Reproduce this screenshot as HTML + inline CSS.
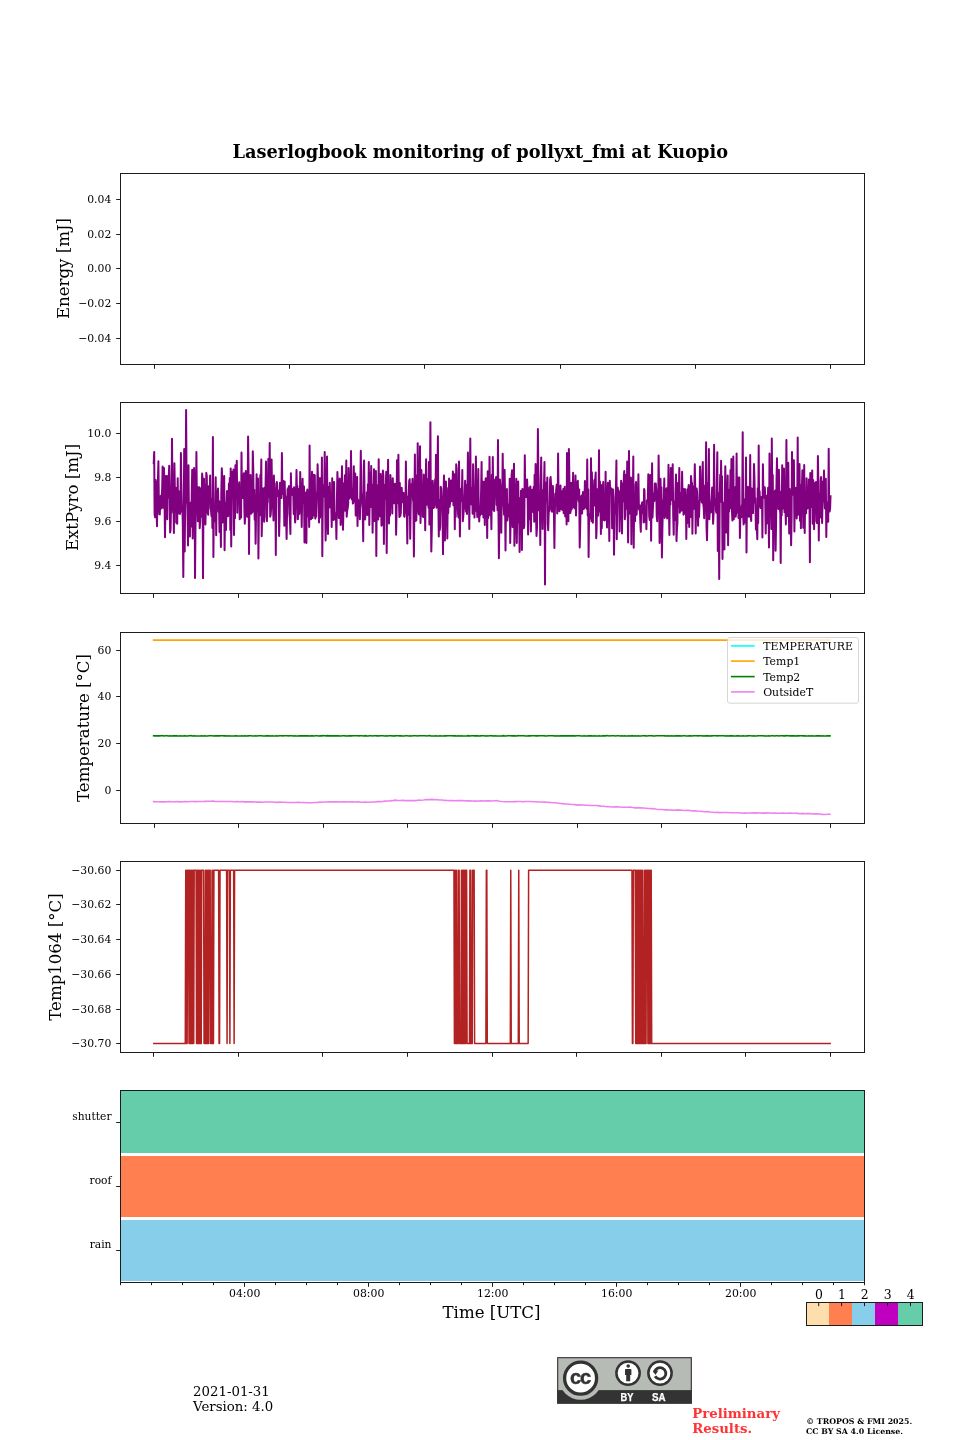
<!DOCTYPE html>
<html lang="en"><head><meta charset="utf-8"><title>Laserlogbook monitoring of pollyxt_fmi at Kuopio</title>
<style>html,body{margin:0;padding:0;background:#fff}svg{display:block}</style></head>
<body>
<svg width="960" height="1440" viewBox="0 0 960 1440" font-family="'DejaVu Serif','Liberation Serif',serif">
<rect width="960" height="1440" fill="#fff"/>
<text x="480.3" y="158" font-size="17.75" text-anchor="middle" font-weight="bold">Laserlogbook monitoring of pollyxt_fmi at Kuopio</text>
<path d="M154.5 364.5v4.3M289.5 364.5v4.3M424.5 364.5v4.3M560.5 364.5v4.3M695.5 364.5v4.3M830.5 364.5v4.3" stroke="#1c1c1c" stroke-width="1" fill="none"/>
<path d="M120.5 199.5h-4.3M120.5 234.5h-4.3M120.5 268.5h-4.3M120.5 303.5h-4.3M120.5 338.5h-4.3" stroke="#1c1c1c" stroke-width="1" fill="none"/>
<text x="111.3" y="203.4" font-size="10.8" text-anchor="end">0.04</text>
<text x="111.3" y="238.4" font-size="10.8" text-anchor="end">0.02</text>
<text x="111.3" y="272.4" font-size="10.8" text-anchor="end">0.00</text>
<text x="111.3" y="307.4" font-size="10.8" text-anchor="end">−0.02</text>
<text x="111.3" y="342.4" font-size="10.8" text-anchor="end">−0.04</text>
<text x="69.2" y="268.5" font-size="16.6" text-anchor="middle" transform="rotate(-90 69.2 268.5)">Energy [mJ]</text>
<rect x="120.5" y="173.5" width="744.0" height="191.0" stroke="#1c1c1c" stroke-width="1" fill="none"/>
<path d="M153.7 463.4L154.2 451.9L154.6 514.3L155.1 517.3L155.6 480.1L156.0 499.0L156.5 507.2L157.0 526.3L157.5 481.8L157.9 480.6L158.4 461.2L158.9 507.1L159.3 514.1L159.8 514.4L160.3 498.5L160.7 495.9L161.2 508.5L161.7 495.7L162.2 488.2L162.6 466.4L163.1 507.7L163.6 502.2L164.0 467.9L164.5 499.1L165.0 537.2L165.4 510.4L165.9 475.9L166.4 503.1L166.9 476.1L167.3 519.3L167.8 478.7L168.3 497.4L168.7 477.9L169.2 465.7L169.7 488.3L170.1 532.5L170.6 529.5L171.1 499.3L171.5 512.6L172.0 438.8L172.5 495.7L173.0 509.9L173.4 498.6L173.9 533.0L174.4 463.2L174.8 484.9L175.3 508.5L175.8 487.8L176.2 522.8L176.7 492.4L177.2 523.8L177.7 478.2L178.1 513.5L178.6 491.0L179.1 507.6L179.5 507.7L180.0 513.9L180.5 509.4L180.9 453.1L181.4 488.3L181.9 511.5L182.4 507.0L182.8 524.6L183.3 577.0L183.8 508.3L184.2 449.0L184.7 551.4L185.2 503.1L185.6 502.7L186.1 410.1L186.6 484.8L187.0 494.1L187.5 508.9L188.0 545.6L188.5 465.3L188.9 515.8L189.4 511.7L189.9 536.6L190.3 502.8L190.8 511.6L191.3 526.6L191.7 495.1L192.2 469.8L192.7 538.5L193.2 503.7L193.6 514.6L194.1 467.9L194.6 483.0L195.0 578.1L195.5 526.6L196.0 502.7L196.4 452.1L196.9 501.9L197.4 486.7L197.9 521.2L198.3 505.6L198.8 516.7L199.3 487.2L199.7 528.3L200.2 520.3L200.7 488.6L201.1 511.9L201.6 516.7L202.1 473.4L202.5 478.0L203.0 578.3L203.5 503.6L204.0 478.8L204.4 523.2L204.9 484.9L205.4 524.4L205.8 509.7L206.3 472.8L206.8 476.2L207.2 512.1L207.7 512.8L208.2 514.8L208.7 486.2L209.1 493.8L209.6 503.3L210.1 475.4L210.5 508.0L211.0 510.3L211.5 516.2L211.9 498.8L212.4 527.9L212.9 437.1L213.4 557.1L213.8 510.8L214.3 521.4L214.8 509.8L215.2 504.5L215.7 477.3L216.2 535.3L216.6 490.8L217.1 492.0L217.6 508.8L218.0 488.5L218.5 511.8L219.0 501.2L219.5 532.1L219.9 501.8L220.4 506.4L220.9 546.9L221.3 492.8L221.8 468.3L222.3 479.5L222.7 522.5L223.2 521.8L223.7 497.3L224.2 476.0L224.6 550.3L225.1 502.5L225.6 503.1L226.0 530.0L226.5 503.7L227.0 491.0L227.4 491.6L227.9 516.3L228.4 515.4L228.9 483.4L229.3 502.7L229.8 477.9L230.3 530.0L230.7 468.6L231.2 546.6L231.7 497.4L232.1 472.1L232.6 498.1L233.1 476.7L233.5 469.6L234.0 534.9L234.5 486.4L235.0 518.3L235.4 465.3L235.9 482.3L236.4 477.0L236.8 460.8L237.3 512.8L237.8 485.2L238.2 489.6L238.7 489.6L239.2 482.2L239.7 519.3L240.1 516.8L240.6 510.3L241.1 517.5L241.5 452.5L242.0 498.0L242.5 485.3L242.9 498.1L243.4 480.3L243.9 473.3L244.4 510.5L244.8 523.8L245.3 512.6L245.8 471.1L246.2 503.8L246.7 489.2L247.2 516.7L247.6 494.4L248.1 436.5L248.6 474.6L249.0 553.9L249.5 499.9L250.0 502.3L250.5 475.0L250.9 513.8L251.4 507.7L251.9 508.5L252.3 512.6L252.8 451.2L253.3 470.5L253.7 511.3L254.2 489.7L254.7 519.7L255.2 505.1L255.6 543.7L256.1 511.5L256.6 474.2L257.0 510.8L257.5 489.9L258.0 478.4L258.4 558.4L258.9 511.5L259.4 513.3L259.9 515.2L260.3 475.1L260.8 491.1L261.3 459.6L261.7 536.2L262.2 509.0L262.7 488.5L263.1 503.7L263.6 503.5L264.1 521.8L264.5 487.7L265.0 487.6L265.5 488.6L266.0 461.5L266.4 516.4L266.9 521.2L267.4 503.4L267.8 501.7L268.3 458.9L268.8 496.9L269.2 495.0L269.7 442.9L270.2 516.7L270.7 514.7L271.1 508.0L271.6 459.6L272.1 496.8L272.5 500.9L273.0 505.3L273.5 520.5L273.9 475.6L274.4 503.6L274.9 488.8L275.4 488.2L275.8 555.0L276.3 484.0L276.8 482.0L277.2 485.1L277.7 496.0L278.2 490.8L278.6 490.7L279.1 536.0L279.6 516.9L280.0 482.7L280.5 497.9L281.0 490.8L281.5 498.1L281.9 453.1L282.4 494.1L282.9 482.8L283.3 481.0L283.8 483.4L284.3 525.7L284.7 481.4L285.2 505.3L285.7 496.4L286.2 521.9L286.6 538.9L287.1 511.3L287.6 489.1L288.0 490.1L288.5 487.8L289.0 486.1L289.4 513.6L289.9 519.4L290.4 534.0L290.9 473.3L291.3 494.3L291.8 494.1L292.3 491.7L292.7 495.1L293.2 488.5L293.7 514.1L294.1 487.3L294.6 507.4L295.1 522.5L295.5 518.8L296.0 495.0L296.5 470.1L297.0 493.9L297.4 485.9L297.9 519.3L298.4 508.6L298.8 489.1L299.3 514.0L299.8 508.0L300.2 472.0L300.7 492.0L301.2 496.4L301.7 527.0L302.1 502.0L302.6 478.8L303.1 502.8L303.5 491.2L304.0 486.6L304.5 542.4L304.9 505.4L305.4 506.6L305.9 492.5L306.4 543.0L306.8 492.9L307.3 489.6L307.8 516.5L308.2 494.2L308.7 506.0L309.2 527.0L309.6 445.4L310.1 518.1L310.6 493.9L311.0 519.2L311.5 488.3L312.0 471.8L312.5 518.0L312.9 484.0L313.4 494.4L313.9 474.7L314.3 515.4L314.8 475.3L315.3 518.6L315.7 516.1L316.2 516.6L316.7 496.4L317.2 491.0L317.6 464.3L318.1 482.7L318.6 496.0L319.0 522.5L319.5 478.2L320.0 517.7L320.4 496.5L320.9 478.1L321.4 515.8L321.9 457.6L322.3 556.2L322.8 498.0L323.3 494.8L323.7 485.0L324.2 496.3L324.7 451.9L325.1 490.9L325.6 540.4L326.1 516.9L326.5 511.2L327.0 456.4L327.5 512.9L328.0 534.0L328.4 487.0L328.9 501.9L329.4 507.5L329.8 482.7L330.3 507.0L330.8 496.4L331.2 500.6L331.7 527.0L332.2 478.2L332.7 510.1L333.1 494.9L333.6 519.9L334.1 482.0L334.5 516.5L335.0 519.2L335.5 514.9L335.9 512.9L336.4 538.9L336.9 500.0L337.4 472.0L337.8 484.2L338.3 497.0L338.8 518.0L339.2 510.9L339.7 478.4L340.2 498.4L340.6 525.0L341.1 520.3L341.6 488.1L342.0 466.2L342.5 512.3L343.0 529.8L343.5 506.8L343.9 483.3L344.4 498.4L344.9 475.3L345.3 510.7L345.8 492.5L346.3 460.5L346.7 516.7L347.2 510.7L347.7 508.1L348.2 504.4L348.6 467.9L349.1 498.7L349.6 496.1L350.0 496.8L350.5 497.5L351.0 451.0L351.4 486.3L351.9 499.4L352.4 492.5L352.9 503.6L353.3 502.9L353.8 466.2L354.3 501.1L354.7 486.4L355.2 473.5L355.7 515.4L356.1 498.5L356.6 478.6L357.1 476.9L357.5 525.9L358.0 499.6L358.5 502.1L359.0 505.3L359.4 503.3L359.9 519.3L360.4 482.9L360.8 450.8L361.3 492.3L361.8 496.5L362.2 504.1L362.7 509.3L363.2 541.3L363.7 470.0L364.1 460.5L364.6 497.0L365.1 519.4L365.5 514.0L366.0 514.1L366.5 506.0L366.9 492.2L367.4 514.9L367.9 484.2L368.4 498.5L368.8 462.1L369.3 525.0L369.8 491.2L370.2 472.4L370.7 506.9L371.2 466.0L371.6 499.0L372.1 484.7L372.6 532.7L373.0 508.5L373.5 497.4L374.0 469.2L374.5 521.1L374.9 483.2L375.4 491.6L375.9 471.1L376.3 555.9L376.8 488.9L377.3 485.6L377.7 489.6L378.2 519.5L378.7 459.2L379.2 516.1L379.6 516.2L380.1 499.1L380.6 474.0L381.0 506.0L381.5 525.7L382.0 524.6L382.4 481.3L382.9 470.5L383.4 475.9L383.9 544.0L384.3 484.8L384.8 499.0L385.3 494.3L385.7 490.8L386.2 471.8L386.7 552.9L387.1 500.9L387.6 486.5L388.1 459.8L388.5 504.0L389.0 523.5L389.5 493.1L390.0 515.4L390.4 475.0L390.9 483.6L391.4 485.4L391.8 496.9L392.3 513.5L392.8 478.2L393.2 492.3L393.7 483.5L394.2 503.2L394.7 499.6L395.1 484.6L395.6 483.7L396.1 534.7L396.5 515.2L397.0 460.2L397.5 503.1L397.9 495.2L398.4 454.8L398.9 499.8L399.4 517.0L399.8 483.0L400.3 516.1L400.8 513.1L401.2 496.0L401.7 487.8L402.2 499.3L402.6 502.2L403.1 494.4L403.6 492.9L404.1 516.1L404.5 516.7L405.0 509.7L405.5 509.1L405.9 461.5L406.4 508.5L406.9 515.3L407.3 543.4L407.8 496.6L408.3 514.8L408.7 494.7L409.2 480.8L409.7 479.2L410.2 538.8L410.6 509.2L411.1 489.2L411.6 484.1L412.0 495.0L412.5 478.8L413.0 499.3L413.4 502.4L413.9 556.5L414.4 504.4L414.9 454.4L415.3 520.9L415.8 475.3L416.3 520.4L416.7 500.0L417.2 510.3L417.7 443.3L418.1 497.5L418.6 513.6L419.1 514.5L419.6 484.6L420.0 446.3L420.5 522.9L421.0 498.1L421.4 470.0L421.9 494.8L422.4 497.1L422.8 516.7L423.3 517.0L423.8 474.6L424.2 494.1L424.7 495.5L425.2 530.2L425.7 488.4L426.1 459.2L426.6 504.7L427.1 492.4L427.5 498.6L428.0 479.1L428.5 507.8L428.9 462.1L429.4 524.4L429.9 486.4L430.4 422.3L430.8 503.2L431.3 551.4L431.8 530.0L432.2 499.4L432.7 480.7L433.2 489.0L433.6 507.9L434.1 507.1L434.6 504.2L435.1 479.5L435.5 492.4L436.0 454.8L436.5 507.7L436.9 482.2L437.4 482.2L437.9 436.2L438.3 500.2L438.8 536.6L439.3 500.3L439.7 530.0L440.2 526.6L440.7 486.8L441.2 488.5L441.6 501.3L442.1 497.9L442.6 515.6L443.0 554.3L443.5 495.1L444.0 475.6L444.4 498.5L444.9 540.4L445.4 511.6L445.9 481.4L446.3 493.4L446.8 488.0L447.3 538.5L447.7 503.4L448.2 513.3L448.7 499.1L449.1 478.4L449.6 506.8L450.1 502.4L450.6 499.4L451.0 480.5L451.5 501.2L452.0 489.7L452.4 489.7L452.9 471.4L453.4 505.3L453.8 486.6L454.3 474.3L454.8 529.3L455.2 491.4L455.7 516.8L456.2 464.3L456.7 470.0L457.1 506.4L457.6 506.3L458.1 514.3L458.5 517.5L459.0 461.5L459.5 503.0L459.9 536.6L460.4 493.2L460.9 495.0L461.4 488.4L461.8 501.0L462.3 470.1L462.8 521.2L463.2 516.8L463.7 511.1L464.2 506.3L464.6 496.4L465.1 480.7L465.6 498.3L466.1 511.6L466.5 484.9L467.0 514.0L467.5 495.0L467.9 452.5L468.4 495.1L468.9 481.2L469.3 528.9L469.8 482.6L470.3 438.4L470.7 491.7L471.2 504.2L471.7 487.9L472.2 493.8L472.6 513.8L473.1 464.3L473.6 487.3L474.0 500.2L474.5 517.6L475.0 490.5L475.4 510.7L475.9 456.4L476.4 509.1L476.9 506.5L477.3 516.9L477.8 505.5L478.3 468.9L478.7 510.0L479.2 521.4L479.7 511.3L480.1 515.3L480.6 508.9L481.1 491.7L481.6 462.1L482.0 514.1L482.5 481.3L483.0 494.7L483.4 517.5L483.9 482.0L484.4 501.8L484.8 525.0L485.3 482.2L485.8 478.2L486.2 505.3L486.7 503.1L487.2 538.1L487.7 471.3L488.1 518.3L488.6 510.8L489.1 515.4L489.5 456.7L490.0 493.3L490.5 490.9L490.9 504.7L491.4 529.3L491.9 474.7L492.4 496.6L492.8 457.0L493.3 508.4L493.8 510.2L494.2 510.9L494.7 481.4L495.2 479.2L495.6 495.7L496.1 476.9L496.6 505.1L497.1 492.1L497.5 510.2L498.0 440.0L498.5 516.4L498.9 558.2L499.4 515.8L499.9 479.4L500.3 484.6L500.8 494.4L501.3 532.7L501.7 496.5L502.2 505.1L502.7 453.8L503.2 492.6L503.6 504.0L504.1 514.8L504.6 469.8L505.0 493.6L505.5 550.5L506.0 504.5L506.4 515.1L506.9 489.1L507.4 520.4L507.9 514.1L508.3 504.7L508.8 516.3L509.3 514.3L509.7 478.8L510.2 543.0L510.7 515.4L511.1 506.3L511.6 475.1L512.1 470.2L512.6 527.0L513.0 501.6L513.5 504.2L514.0 463.8L514.4 545.8L514.9 523.7L515.4 491.2L515.8 494.0L516.3 478.8L516.8 543.0L517.2 511.8L517.7 522.3L518.2 481.4L518.7 517.5L519.1 507.0L519.6 552.0L520.1 497.9L520.5 530.0L521.0 490.8L521.5 493.0L521.9 550.1L522.4 489.0L522.9 489.5L523.4 501.2L523.8 528.2L524.3 525.7L524.8 455.3L525.2 486.0L525.7 482.2L526.2 496.9L526.6 493.0L527.1 479.5L527.6 493.9L528.1 534.4L528.5 516.9L529.0 501.2L529.5 487.4L529.9 519.3L530.4 486.5L530.9 531.5L531.3 504.8L531.8 507.3L532.3 489.7L532.7 510.5L533.2 512.3L533.7 486.8L534.2 521.8L534.6 474.7L535.1 498.1L535.6 464.1L536.0 515.0L536.5 536.0L537.0 527.8L537.4 500.2L537.9 429.0L538.4 477.1L538.9 510.3L539.3 505.9L539.8 498.6L540.3 544.9L540.7 483.3L541.2 457.4L541.7 519.2L542.1 494.5L542.6 528.9L543.1 490.0L543.6 503.8L544.0 484.9L544.5 462.1L545.0 584.5L545.4 504.7L545.9 490.9L546.4 482.4L546.8 495.1L547.3 477.5L547.8 523.7L548.2 530.2L548.7 512.0L549.2 511.4L549.7 505.9L550.1 480.0L550.6 476.9L551.1 485.5L551.5 510.3L552.0 511.8L552.5 509.3L552.9 485.9L553.4 509.3L553.9 510.5L554.4 547.9L554.8 514.6L555.3 493.6L555.8 497.3L556.2 489.3L556.7 484.7L557.2 513.5L557.6 509.9L558.1 453.5L558.6 503.1L559.1 490.3L559.5 511.3L560.0 491.7L560.5 485.6L560.9 509.1L561.4 495.9L561.9 509.6L562.3 491.1L562.8 510.0L563.3 489.1L563.7 513.2L564.2 498.4L564.7 486.7L565.2 516.6L565.6 493.5L566.1 497.8L566.6 524.4L567.0 453.1L567.5 494.2L568.0 504.2L568.4 521.2L568.9 449.0L569.4 478.8L569.9 506.5L570.3 513.1L570.8 510.4L571.3 482.8L571.7 509.0L572.2 505.8L572.7 504.3L573.1 472.7L573.6 507.1L574.1 503.2L574.6 508.3L575.0 492.4L575.5 475.4L576.0 515.4L576.4 502.9L576.9 481.7L577.4 489.9L577.8 480.7L578.3 497.7L578.8 501.4L579.2 489.6L579.7 547.5L580.2 526.3L580.7 497.0L581.1 497.3L581.6 495.5L582.1 513.5L582.5 501.6L583.0 492.1L583.5 509.1L583.9 508.7L584.4 508.3L584.9 481.0L585.4 498.4L585.8 506.9L586.3 481.6L586.8 509.0L587.2 459.6L587.7 515.5L588.2 489.2L588.6 557.1L589.1 514.1L589.6 514.9L590.1 518.4L590.5 518.0L591.0 458.3L591.5 521.2L591.9 472.2L592.4 511.8L592.9 522.7L593.3 493.1L593.8 492.9L594.3 480.1L594.7 505.6L595.2 479.4L595.7 472.4L596.2 538.3L596.6 530.0L597.1 489.2L597.6 512.8L598.0 515.8L598.5 510.9L599.0 450.3L599.4 511.3L599.9 481.5L600.4 494.8L600.9 534.0L601.3 485.2L601.8 528.2L602.3 485.1L602.7 508.4L603.2 482.1L603.7 520.1L604.1 519.1L604.6 520.5L605.1 519.1L605.6 471.8L606.0 519.6L606.5 504.7L607.0 527.6L607.4 494.3L607.9 482.7L608.4 509.3L608.8 501.9L609.3 541.1L609.8 480.7L610.2 493.0L610.7 489.2L611.2 488.3L611.7 488.9L612.1 528.3L612.6 513.6L613.1 489.5L613.5 497.4L614.0 554.8L614.5 516.0L614.9 509.2L615.4 511.6L615.9 491.6L616.4 460.5L616.8 539.2L617.3 498.5L617.8 487.7L618.2 494.4L618.7 490.4L619.2 496.8L619.6 531.5L620.1 492.6L620.6 519.6L621.1 480.7L621.5 484.8L622.0 533.4L622.5 483.7L622.9 483.9L623.4 501.3L623.9 475.1L624.3 471.1L624.8 519.3L625.3 515.5L625.7 474.9L626.2 486.5L626.7 508.7L627.2 461.5L627.6 486.9L628.1 542.4L628.6 497.0L629.0 451.0L629.5 513.4L630.0 497.8L630.4 504.5L630.9 477.5L631.4 544.3L631.9 497.7L632.3 479.9L632.8 500.2L633.3 456.4L633.7 547.8L634.2 496.8L634.7 511.6L635.1 521.2L635.6 484.9L636.1 482.0L636.6 514.8L637.0 507.4L637.5 489.1L638.0 498.2L638.4 474.3L638.9 508.1L639.4 510.3L639.8 505.6L640.3 521.6L640.8 531.7L641.2 505.1L641.7 504.9L642.2 502.3L642.7 512.9L643.1 504.4L643.6 522.5L644.1 489.1L644.5 490.4L645.0 521.7L645.5 515.4L645.9 513.3L646.4 529.3L646.9 500.5L647.4 499.8L647.8 500.5L648.3 474.3L648.8 497.6L649.2 516.1L649.7 519.9L650.2 475.0L650.6 488.7L651.1 540.8L651.6 496.1L652.1 463.2L652.5 517.5L653.0 506.2L653.5 493.7L653.9 501.3L654.4 501.0L654.9 483.4L655.3 489.9L655.8 483.6L656.3 490.5L656.7 515.6L657.2 521.2L657.7 494.0L658.2 507.4L658.6 455.5L659.1 490.9L659.6 543.0L660.0 530.0L660.5 478.8L661.0 506.3L661.4 487.2L661.9 557.4L662.4 528.8L662.9 506.8L663.3 502.2L663.8 498.0L664.3 478.6L664.7 517.9L665.2 515.4L665.7 498.1L666.1 492.1L666.6 488.2L667.1 518.6L667.6 494.3L668.0 502.1L668.5 464.7L669.0 512.7L669.4 535.1L669.9 490.4L670.4 504.6L670.8 467.9L671.3 486.4L671.8 500.0L672.2 484.6L672.7 464.3L673.2 515.0L673.7 534.7L674.1 501.7L674.6 512.6L675.1 519.9L675.5 490.1L676.0 474.6L676.5 541.1L676.9 530.0L677.4 522.9L677.9 482.9L678.4 506.7L678.8 495.5L679.3 467.9L679.8 512.8L680.2 492.8L680.7 499.8L681.2 510.7L681.6 510.5L682.1 471.8L682.6 500.4L683.1 488.7L683.5 514.8L684.0 514.0L684.5 512.5L684.9 489.1L685.4 503.9L685.9 499.7L686.3 538.9L686.8 506.0L687.3 489.4L687.7 522.9L688.2 490.6L688.7 484.9L689.2 527.0L689.6 492.6L690.1 486.0L690.6 517.0L691.0 476.0L691.5 482.3L692.0 483.1L692.4 533.8L692.9 492.7L693.4 486.5L693.9 508.8L694.3 497.2L694.8 464.3L695.3 491.1L695.7 533.4L696.2 493.1L696.7 488.5L697.1 492.3L697.6 506.0L698.1 525.7L698.6 501.5L699.0 517.0L699.5 503.6L700.0 466.4L700.4 496.0L700.9 500.0L701.4 480.5L701.8 502.6L702.3 472.7L702.8 462.1L703.2 503.7L703.7 507.8L704.2 518.2L704.7 502.0L705.1 485.2L705.6 506.5L706.1 442.2L706.5 526.8L707.0 540.2L707.5 514.4L707.9 483.0L708.4 492.1L708.9 448.9L709.4 519.3L709.8 507.9L710.3 510.3L710.8 512.6L711.2 503.4L711.7 496.8L712.2 487.4L712.6 498.2L713.1 523.8L713.6 513.3L714.1 444.8L714.5 503.1L715.0 498.7L715.5 500.9L715.9 510.5L716.4 512.8L716.9 477.0L717.3 452.2L717.8 551.1L718.3 493.1L718.7 507.9L719.2 579.0L719.7 499.2L720.2 474.7L720.6 501.7L721.1 460.8L721.6 499.3L722.0 476.2L722.5 559.1L723.0 510.8L723.4 502.7L723.9 506.4L724.4 549.4L724.9 490.1L725.3 466.2L725.8 494.7L726.3 532.5L726.7 530.0L727.2 510.7L727.7 475.4L728.1 545.3L728.6 501.4L729.1 511.4L729.6 489.4L730.0 496.4L730.5 470.0L731.0 508.3L731.4 458.9L731.9 510.3L732.4 520.5L732.8 497.6L733.3 456.4L733.8 519.3L734.2 496.9L734.7 495.8L735.2 487.2L735.7 516.7L736.1 513.2L736.6 453.4L737.1 512.6L737.5 489.1L738.0 477.4L738.5 518.0L738.9 480.8L739.4 477.5L739.9 537.9L740.4 513.5L740.8 507.7L741.3 517.3L741.8 505.2L742.2 508.7L742.7 432.3L743.2 516.4L743.6 524.4L744.1 515.2L744.6 522.6L745.1 499.1L745.5 506.6L746.0 457.6L746.5 552.6L746.9 503.9L747.4 494.9L747.9 486.7L748.3 499.6L748.8 516.7L749.3 504.8L749.7 510.7L750.2 455.1L750.7 517.1L751.2 520.9L751.6 488.4L752.1 494.4L752.6 506.6L753.0 513.1L753.5 494.5L754.0 464.1L754.4 476.1L754.9 502.5L755.4 498.3L755.9 529.5L756.3 513.3L756.8 526.9L757.3 539.2L757.7 488.3L758.2 522.9L758.7 445.4L759.1 499.4L759.6 491.3L760.1 505.1L760.6 508.1L761.0 502.2L761.5 496.9L762.0 497.8L762.4 537.6L762.9 464.3L763.4 492.2L763.8 497.8L764.3 496.9L764.8 487.2L765.2 496.6L765.7 533.4L766.2 506.1L766.7 508.1L767.1 495.5L767.6 523.3L768.1 487.7L768.5 508.3L769.0 547.5L769.5 453.5L769.9 496.4L770.4 513.3L770.9 500.9L771.4 528.9L771.8 438.4L772.3 503.2L772.8 475.0L773.2 560.3L773.7 512.5L774.2 498.1L774.6 492.3L775.1 490.5L775.6 550.7L776.1 522.4L776.5 481.3L777.0 458.3L777.5 507.4L777.9 491.9L778.4 509.0L778.9 469.8L779.3 486.5L779.8 506.6L780.3 513.7L780.7 562.9L781.2 491.7L781.7 515.5L782.2 465.3L782.6 508.7L783.1 506.4L783.6 505.6L784.0 468.6L784.5 512.2L785.0 500.4L785.4 506.6L785.9 524.4L786.4 440.0L786.9 511.6L787.3 516.1L787.8 494.3L788.3 462.8L788.7 499.0L789.2 533.4L789.7 488.9L790.1 509.0L790.6 514.1L791.1 545.3L791.6 516.5L792.0 451.9L792.5 485.5L793.0 491.3L793.4 494.8L793.9 460.2L794.4 531.5L794.8 502.0L795.3 515.1L795.8 487.8L796.2 498.3L796.7 518.5L797.2 506.6L797.7 437.4L798.1 514.8L798.6 475.3L799.1 487.2L799.5 464.1L800.0 520.8L800.5 490.9L800.9 528.3L801.4 485.0L801.9 486.8L802.4 470.2L802.8 495.4L803.3 527.8L803.8 510.7L804.2 465.0L804.7 533.1L805.2 497.8L805.6 511.7L806.1 513.4L806.6 478.2L807.1 507.1L807.5 508.5L808.0 498.8L808.5 503.8L808.9 479.5L809.4 495.3L809.9 562.3L810.3 473.0L810.8 500.1L811.3 491.3L811.7 506.9L812.2 470.5L812.7 523.8L813.2 480.0L813.6 493.7L814.1 529.3L814.6 489.5L815.0 483.1L815.5 497.4L816.0 482.1L816.4 521.1L816.9 523.1L817.4 521.9L817.9 456.1L818.3 478.5L818.8 540.4L819.3 493.7L819.7 511.3L820.2 517.6L820.7 480.7L821.1 476.9L821.6 491.6L822.1 523.1L822.6 499.9L823.0 481.5L823.5 500.9L824.0 470.5L824.4 495.7L824.9 508.4L825.4 492.2L825.8 478.8L826.3 536.9L826.8 502.2L827.2 518.8L827.7 514.0L828.2 521.8L828.7 448.7L829.1 502.4L829.6 511.6L830.1 508.6L830.5 496.2" fill="none" stroke="#800080" stroke-width="2.0" stroke-linejoin="round" stroke-linecap="square"/>
<path d="M153.5 593.5v4.3M238.5 593.5v4.3M322.5 593.5v4.3M407.5 593.5v4.3M492.5 593.5v4.3M576.5 593.5v4.3M661.5 593.5v4.3M745.5 593.5v4.3M830.5 593.5v4.3" stroke="#1c1c1c" stroke-width="1" fill="none"/>
<path d="M120.5 433.5h-4.3M120.5 477.5h-4.3M120.5 521.5h-4.3M120.5 565.5h-4.3" stroke="#1c1c1c" stroke-width="1" fill="none"/>
<text x="111.3" y="437.4" font-size="10.8" text-anchor="end">10.0</text>
<text x="111.3" y="481.4" font-size="10.8" text-anchor="end">9.8</text>
<text x="111.3" y="525.4" font-size="10.8" text-anchor="end">9.6</text>
<text x="111.3" y="569.4" font-size="10.8" text-anchor="end">9.4</text>
<text x="78" y="497.5" font-size="16.6" text-anchor="middle" transform="rotate(-90 78 497.5)">ExtPyro [mJ]</text>
<rect x="120.5" y="402.5" width="744.0" height="191.0" stroke="#1c1c1c" stroke-width="1" fill="none"/>
<path d="M153.6 640.1H830.0" fill="none" stroke="#ffa500" stroke-width="1.6" stroke-linecap="square"/>
<path d="M153.6 735.76L155.1 735.87L156.6 735.80L158.1 735.89L159.6 735.90L161.1 735.69L162.6 735.67L164.1 735.97L165.6 735.76L167.1 735.75L168.6 736.03L170.1 735.84L171.6 735.97L173.1 735.84L174.6 735.90L176.1 735.72L177.6 735.90L179.1 735.98L180.6 735.86L182.1 735.94L183.6 735.91L185.1 735.69L186.6 735.94L188.1 735.88L189.6 735.78L191.1 735.68L192.6 735.98L194.1 735.84L195.6 735.93L197.1 735.99L198.6 735.93L200.1 736.00L201.6 735.81L203.1 735.96L204.6 735.83L206.1 736.01L207.6 735.99L209.1 735.71L210.6 735.72L212.1 735.75L213.6 736.02L215.1 735.83L216.6 735.90L218.1 735.78L219.6 735.85L221.1 735.81L222.6 735.80L224.1 735.88L225.6 735.88L227.1 736.00L228.6 735.92L230.1 736.00L231.6 735.98L233.1 736.03L234.6 735.91L236.1 735.73L237.6 735.98L239.1 736.02L240.6 736.00L242.1 735.87L243.6 735.93L245.1 735.75L246.6 735.97L248.1 735.88L249.6 735.77L251.1 735.69L252.6 735.98L254.1 736.03L255.6 735.70L257.1 735.96L258.6 735.82L260.1 735.72L261.6 735.78L263.1 735.95L264.6 735.98L266.1 735.69L267.6 735.89L269.1 735.69L270.6 735.93L272.1 735.79L273.6 735.99L275.1 736.02L276.6 735.85L278.1 736.03L279.6 735.78L281.1 735.70L282.6 735.89L284.1 735.68L285.6 735.74L287.1 735.82L288.6 735.89L290.1 735.73L291.6 735.69L293.1 735.98L294.6 735.78L296.1 736.02L297.6 735.99L299.1 735.81L300.6 735.84L302.1 735.86L303.6 735.90L305.1 735.88L306.6 735.87L308.1 735.89L309.6 736.01L311.1 735.85L312.6 735.83L314.1 735.93L315.6 735.76L317.1 735.78L318.6 736.02L320.1 735.86L321.6 735.87L323.1 735.67L324.6 735.82L326.1 735.88L327.6 735.68L329.1 735.89L330.6 735.90L332.1 735.69L333.6 735.90L335.1 735.84L336.6 735.91L338.1 735.80L339.6 735.92L341.1 735.94L342.6 735.68L344.1 735.69L345.6 735.91L347.1 736.02L348.6 735.76L350.1 735.83L351.6 735.88L353.1 735.79L354.6 735.80L356.1 735.78L357.6 735.80L359.1 735.88L360.6 735.78L362.1 735.81L363.6 735.95L365.1 735.68L366.6 735.87L368.1 735.93L369.6 735.78L371.1 735.75L372.6 735.96L374.1 735.76L375.6 735.74L377.1 735.83L378.6 735.92L380.1 735.71L381.6 735.79L383.1 735.79L384.6 735.97L386.1 735.83L387.6 735.98L389.1 735.73L390.6 735.79L392.1 735.90L393.6 735.99L395.1 735.83L396.6 735.75L398.1 735.71L399.6 735.86L401.1 735.74L402.6 735.96L404.1 735.97L405.6 735.74L407.1 735.77L408.6 735.96L410.1 735.90L411.6 735.96L413.1 735.79L414.6 735.72L416.1 735.78L417.6 735.96L419.1 735.77L420.6 735.79L422.1 735.82L423.6 735.82L425.1 735.82L426.6 736.00L428.1 735.73L429.6 735.67L431.1 736.01L432.6 735.99L434.1 736.03L435.6 735.83L437.1 736.01L438.6 736.00L440.1 735.75L441.6 735.94L443.1 735.97L444.6 735.91L446.1 735.86L447.6 735.77L449.1 735.79L450.6 735.75L452.1 735.69L453.6 735.88L455.1 735.77L456.6 735.96L458.1 735.69L459.6 736.00L461.1 735.92L462.6 736.00L464.1 735.99L465.6 735.99L467.1 735.88L468.6 735.67L470.1 735.94L471.6 735.73L473.1 735.78L474.6 735.91L476.1 735.86L477.6 735.82L479.1 736.01L480.6 735.89L482.1 735.79L483.6 735.76L485.1 735.98L486.6 735.84L488.1 735.95L489.6 735.80L491.1 735.74L492.6 735.86L494.1 735.96L495.6 735.73L497.1 735.96L498.6 736.00L500.1 735.96L501.6 735.97L503.1 735.67L504.6 735.90L506.1 735.98L507.6 735.69L509.1 735.77L510.6 735.77L512.1 735.86L513.6 735.82L515.1 735.84L516.6 735.95L518.1 735.67L519.6 735.69L521.1 735.72L522.6 735.71L524.1 735.69L525.6 736.02L527.1 735.98L528.6 735.70L530.1 735.85L531.6 735.78L533.1 735.78L534.6 735.80L536.1 735.90L537.6 735.88L539.1 735.80L540.6 735.74L542.1 735.79L543.6 735.71L545.1 735.87L546.6 735.93L548.1 735.81L549.6 735.70L551.1 735.73L552.6 735.80L554.1 735.89L555.6 735.95L557.1 735.81L558.6 735.96L560.1 735.89L561.6 735.83L563.1 735.80L564.6 735.85L566.1 735.92L567.6 735.82L569.1 735.92L570.6 735.84L572.1 735.76L573.6 735.86L575.1 735.92L576.6 735.70L578.1 735.82L579.6 735.82L581.1 735.99L582.6 736.01L584.1 735.80L585.6 735.99L587.1 735.95L588.6 735.76L590.1 735.84L591.6 735.71L593.1 735.96L594.6 735.91L596.1 735.99L597.6 735.96L599.1 735.91L600.6 735.93L602.1 735.87L603.6 735.71L605.1 735.88L606.6 735.67L608.1 735.72L609.6 735.95L611.1 735.69L612.6 735.70L614.1 735.71L615.6 735.99L617.1 735.73L618.6 735.68L620.1 735.97L621.6 735.71L623.1 735.97L624.6 735.91L626.1 735.97L627.6 736.01L629.1 735.88L630.6 735.96L632.1 735.68L633.6 735.95L635.1 735.85L636.6 735.93L638.1 735.71L639.6 735.94L641.1 736.01L642.6 735.69L644.1 735.79L645.6 735.87L647.1 735.97L648.6 735.76L650.1 735.73L651.6 735.76L653.1 735.89L654.6 735.94L656.1 735.81L657.6 735.80L659.1 735.81L660.6 735.80L662.1 735.82L663.6 735.70L665.1 735.85L666.6 736.02L668.1 735.82L669.6 735.94L671.1 735.73L672.6 735.92L674.1 735.94L675.6 735.91L677.1 735.86L678.6 735.84L680.1 735.90L681.6 735.99L683.1 735.72L684.6 735.70L686.1 735.94L687.6 736.00L689.1 735.86L690.6 735.83L692.1 735.93L693.6 735.74L695.1 735.77L696.6 735.74L698.1 735.88L699.6 735.78L701.1 735.75L702.6 735.92L704.1 736.01L705.6 735.78L707.1 735.92L708.6 735.82L710.1 735.98L711.6 735.88L713.1 735.77L714.6 735.75L716.1 735.68L717.6 735.84L719.1 735.81L720.6 735.73L722.1 735.80L723.6 735.79L725.1 735.95L726.6 735.72L728.1 736.03L729.6 735.84L731.1 735.89L732.6 735.84L734.1 735.97L735.6 735.97L737.1 735.87L738.6 735.84L740.1 735.93L741.6 735.98L743.1 735.81L744.6 735.93L746.1 736.02L747.6 735.84L749.1 735.75L750.6 735.75L752.1 735.93L753.6 735.91L755.1 736.02L756.6 735.98L758.1 735.76L759.6 735.74L761.1 735.76L762.6 735.74L764.1 735.92L765.6 735.98L767.1 735.99L768.6 735.76L770.1 735.98L771.6 735.78L773.1 735.82L774.6 735.93L776.1 735.70L777.6 735.70L779.1 735.97L780.6 735.78L782.1 735.80L783.6 735.88L785.1 735.91L786.6 735.67L788.1 735.79L789.6 735.83L791.1 735.84L792.6 735.75L794.1 735.88L795.6 736.01L797.1 735.81L798.6 735.87L800.1 735.71L801.6 735.77L803.1 735.91L804.6 735.71L806.1 735.99L807.6 736.00L809.1 735.70L810.6 736.01L812.1 735.80L813.6 735.95L815.1 735.94L816.6 735.78L818.1 735.91L819.6 735.91L821.1 735.96L822.6 735.77L824.1 735.94L825.6 736.02L827.1 735.91L828.6 735.86L830.0 735.85" fill="none" stroke="#008000" stroke-width="1.6" stroke-linecap="square"/>
<path d="M153.6 801.65L156.2 801.79L158.9 801.72L161.5 801.86L164.2 801.83L166.8 801.78L169.4 801.61L172.1 801.79L174.7 801.77L177.4 801.58L180.0 801.86L182.5 801.73L185.1 801.49L187.6 801.78L190.2 801.43L192.7 801.48L195.2 801.60L197.8 801.52L200.3 801.48L202.8 801.48L205.4 801.38L207.9 801.29L210.5 801.20L213.0 801.13L215.6 801.43L218.3 801.49L220.9 801.45L223.6 801.57L226.2 801.46L228.9 801.46L231.5 801.55L234.1 801.79L236.8 801.50L239.4 801.73L242.1 801.67L244.7 801.92L247.4 801.80L250.0 801.83L252.5 801.89L255.0 801.98L257.5 802.10L260.0 801.97L262.5 802.20L265.0 801.93L267.5 802.03L270.0 801.99L272.5 802.03L275.0 802.32L277.5 802.33L280.0 802.15L282.5 802.18L285.0 802.30L287.5 802.47L290.0 802.53L292.8 802.55L295.5 802.54L298.2 802.41L301.0 802.56L303.8 802.53L306.5 802.71L309.2 802.78L312.0 802.68L314.6 802.52L317.2 802.55L319.8 802.07L322.4 802.20L325.0 802.06L327.5 802.07L330.0 801.83L332.5 801.89L335.0 801.89L337.5 801.90L340.0 802.03L342.5 801.90L345.0 801.74L347.5 801.95L350.0 801.79L352.5 801.90L355.0 802.02L357.5 801.79L360.0 802.16L362.5 802.18L365.0 802.17L367.5 802.25L370.0 802.28L372.5 802.00L375.0 801.96L377.5 801.59L380.0 801.60L382.5 801.44L385.0 801.14L387.5 800.98L390.0 800.92L392.5 800.67L395.0 800.15L397.5 800.50L400.0 800.52L402.5 800.37L405.0 800.58L407.5 800.61L410.0 800.63L412.8 800.63L415.5 800.60L418.2 800.17L421.0 800.20L423.8 799.94L426.5 799.53L429.2 799.63L432.0 799.34L434.6 799.67L437.2 799.79L439.8 800.00L442.4 800.04L445.0 800.42L447.5 800.55L450.0 800.59L452.5 800.50L455.0 800.70L457.5 800.67L460.0 800.59L462.5 800.64L465.0 800.73L467.5 800.86L470.0 800.91L472.7 801.02L475.4 801.08L478.1 800.99L480.8 800.92L483.5 800.98L486.2 800.82L488.9 800.86L491.6 800.95L494.3 800.79L497.0 800.67L499.7 801.29L502.3 801.55L505.0 801.75L507.6 801.72L510.1 801.76L512.7 801.76L515.2 801.58L517.8 801.46L520.3 801.52L522.9 801.72L525.4 801.44L528.0 801.53L530.8 801.55L533.5 801.68L536.2 801.79L539.0 802.01L541.8 802.04L544.5 802.11L547.2 802.27L550.0 802.42L552.5 802.77L555.0 802.82L557.5 803.03L560.0 803.43L562.5 803.64L565.0 803.98L567.5 803.95L570.0 804.31L572.5 804.53L575.0 804.61L577.6 805.10L580.1 804.91L582.7 804.97L585.2 805.23L587.8 805.22L590.3 805.52L592.9 805.52L595.4 805.54L598.0 805.62L601.0 806.14L604.0 806.21L607.0 806.67L610.0 806.79L612.5 807.04L615.0 806.85L617.5 806.89L620.0 806.96L622.5 807.24L625.0 807.23L627.5 807.18L630.0 807.14L632.7 807.56L635.3 807.86L638.0 807.90L640.7 807.85L643.3 808.05L646.0 808.26L648.7 808.48L651.3 808.61L654.0 808.81L656.7 809.24L659.3 809.52L662.0 809.43L664.5 809.83L667.1 809.72L669.6 809.94L672.2 810.08L674.7 810.18L677.3 809.91L679.8 810.11L682.4 810.32L684.9 810.55L687.5 810.29L690.0 810.47L692.5 810.86L695.0 810.75L697.5 811.03L700.0 811.18L702.5 811.50L705.0 811.77L707.5 811.64L710.0 812.05L712.5 812.22L715.0 812.43L717.5 812.38L720.0 812.59L722.5 812.43L725.0 812.52L727.5 812.50L730.0 812.79L732.5 812.73L735.0 812.71L737.5 812.73L740.0 813.01L742.5 813.03L745.0 813.13L747.5 813.00L750.0 813.04L752.5 812.91L755.0 813.13L757.5 812.86L760.0 813.04L762.5 813.15L765.0 813.12L767.5 812.89L770.0 812.94L772.5 813.19L775.0 813.11L777.5 813.20L780.0 813.20L782.5 813.03L785.0 813.21L787.5 813.22L790.0 813.13L792.5 813.22L795.0 813.18L797.5 813.38L800.0 813.68L802.5 813.42L805.0 813.68L807.5 813.57L810.0 813.63L812.5 813.96L815.0 813.90L817.5 813.92L820.0 814.06L822.5 814.36L825.0 814.43L827.5 814.30L830.0 814.30" fill="none" stroke="#ee82ee" stroke-width="1.6" stroke-linecap="square" stroke-linejoin="round"/>
<path d="M154.5 823.5v4.3M238.5 823.5v4.3M323.5 823.5v4.3M407.5 823.5v4.3M492.5 823.5v4.3M577.5 823.5v4.3M661.5 823.5v4.3M746.5 823.5v4.3M830.5 823.5v4.3" stroke="#1c1c1c" stroke-width="1" fill="none"/>
<path d="M120.5 650.5h-4.3M120.5 696.5h-4.3M120.5 743.5h-4.3M120.5 790.5h-4.3" stroke="#1c1c1c" stroke-width="1" fill="none"/>
<text x="111.3" y="654.4" font-size="10.8" text-anchor="end">60</text>
<text x="111.3" y="700.4" font-size="10.8" text-anchor="end">40</text>
<text x="111.3" y="747.4" font-size="10.8" text-anchor="end">20</text>
<text x="111.3" y="794.4" font-size="10.8" text-anchor="end">0</text>
<text x="89" y="728" font-size="16.6" text-anchor="middle" transform="rotate(-90 89 728)">Temperature [°C]</text>
<rect x="120.5" y="632.5" width="744.0" height="191.0" stroke="#1c1c1c" stroke-width="1" fill="none"/>
<rect x="727.5" y="637.5" width="131" height="65.7" rx="2.2" ry="2.2" fill="#fff" fill-opacity="0.8" stroke="#ccc" stroke-opacity="0.8" stroke-width="1"/>
<path d="M731.7 645.9H753.9" stroke="#00ffff" stroke-width="1.6" stroke-linecap="square" fill="none"/>
<text x="763.2" y="649.8" font-size="10.9">TEMPERATURE</text>
<path d="M731.7 661.1H753.9" stroke="#ffa500" stroke-width="1.6" stroke-linecap="square" fill="none"/>
<text x="763.2" y="665.0" font-size="10.9">Temp1</text>
<path d="M731.7 676.6H753.9" stroke="#008000" stroke-width="1.6" stroke-linecap="square" fill="none"/>
<text x="763.2" y="680.5" font-size="10.9">Temp2</text>
<path d="M731.7 691.9H753.9" stroke="#ee82ee" stroke-width="1.6" stroke-linecap="square" fill="none"/>
<text x="763.2" y="695.8" font-size="10.9">OutsideT</text>
<path d="M153.80 1043.6L185.27 1043.6L185.74 870.3L186.21 1043.6L186.68 870.3L187.15 1043.6L187.62 870.3L188.56 870.3L189.03 1043.6L189.50 870.3L189.97 1043.6L190.44 870.3L190.91 1043.6L191.38 870.3L191.85 1043.6L192.32 870.3L192.79 1043.6L193.25 870.3L193.72 1043.6L194.19 870.3L196.07 870.3L196.54 1043.6L197.01 870.3L197.48 1043.6L197.95 870.3L198.42 1043.6L198.89 870.3L199.36 1043.6L199.83 870.3L200.30 1043.6L200.77 870.3L201.24 1043.6L201.71 870.3L203.59 870.3L204.06 1043.6L205.00 1043.6L205.47 870.3L205.94 1043.6L206.41 870.3L206.88 1043.6L207.35 870.3L207.82 1043.6L208.29 870.3L208.75 1043.6L209.22 870.3L210.16 870.3L210.63 1043.6L211.57 1043.6L212.04 870.3L212.51 1043.6L212.98 870.3L213.45 1043.6L213.92 870.3L218.62 870.3L219.09 1043.6L219.56 1043.6L220.03 870.3L226.60 870.3L227.07 1043.6L227.54 870.3L229.42 870.3L229.89 1043.6L230.36 870.3L233.65 870.3L234.12 1043.6L234.59 870.3L453.94 870.3L454.41 1043.6L454.88 870.3L455.35 1043.6L455.82 870.3L456.29 1043.6L456.76 870.3L457.23 1043.6L458.17 1043.6L458.64 870.3L459.11 870.3L459.57 1043.6L460.98 1043.6L461.45 870.3L461.92 1043.6L462.39 870.3L462.86 1043.6L463.33 870.3L463.80 1043.6L464.27 870.3L464.74 1043.6L465.21 870.3L465.68 1043.6L466.15 870.3L466.62 870.3L467.09 1043.6L469.44 1043.6L469.91 870.3L470.38 1043.6L470.85 870.3L471.32 1043.6L472.26 1043.6L472.73 870.3L474.14 870.3L474.61 1043.6L485.88 1043.6L486.35 870.3L486.82 870.3L487.29 1043.6L510.30 1043.6L510.77 870.3L511.24 1043.6L518.29 1043.6L518.76 870.3L519.23 1043.6L528.15 1043.6L528.62 870.3L631.95 870.3L632.42 1043.6L632.89 1043.6L633.36 870.3L635.24 870.3L635.71 1043.6L636.18 870.3L636.65 1043.6L637.12 870.3L637.59 1043.6L638.06 870.3L638.53 1043.6L639.00 870.3L639.47 1043.6L639.94 870.3L640.41 1043.6L640.88 870.3L641.35 1043.6L641.82 870.3L642.29 1043.6L642.76 870.3L643.23 1043.6L644.17 1043.6L644.64 870.3L645.11 1043.6L645.58 870.3L646.05 1043.6L646.52 870.3L647.45 870.3L647.92 1043.6L648.39 870.3L648.86 1043.6L649.33 870.3L649.80 1043.6L650.27 870.3L650.74 1043.6L651.21 870.3L651.68 1043.6L830.17 1043.6" fill="none" stroke="#b22222" stroke-width="1.5" stroke-linejoin="round" stroke-linecap="square"/>
<path d="M153.5 1052.5v4.3M238.5 1052.5v4.3M322.5 1052.5v4.3M407.5 1052.5v4.3M492.5 1052.5v4.3M576.5 1052.5v4.3M661.5 1052.5v4.3M745.5 1052.5v4.3M830.5 1052.5v4.3" stroke="#1c1c1c" stroke-width="1" fill="none"/>
<path d="M120.5 870.5h-4.3M120.5 904.5h-4.3M120.5 939.5h-4.3M120.5 974.5h-4.3M120.5 1009.5h-4.3M120.5 1043.5h-4.3" stroke="#1c1c1c" stroke-width="1" fill="none"/>
<text x="111.3" y="874.4" font-size="10.8" text-anchor="end">−30.60</text>
<text x="111.3" y="908.4" font-size="10.8" text-anchor="end">−30.62</text>
<text x="111.3" y="943.4" font-size="10.8" text-anchor="end">−30.64</text>
<text x="111.3" y="978.4" font-size="10.8" text-anchor="end">−30.66</text>
<text x="111.3" y="1013.4" font-size="10.8" text-anchor="end">−30.68</text>
<text x="111.3" y="1047.4" font-size="10.8" text-anchor="end">−30.70</text>
<text x="61" y="957" font-size="16.6" text-anchor="middle" transform="rotate(-90 61 957)">Temp1064 [°C]</text>
<rect x="120.5" y="861.5" width="744.0" height="191.0" stroke="#1c1c1c" stroke-width="1" fill="none"/>
<rect x="120.5" y="1090.5" width="744.0" height="62.5" fill="#66cdaa"/>
<rect x="120.5" y="1156" width="744.0" height="61" fill="#ff7f50"/>
<rect x="120.5" y="1220" width="744.0" height="61" fill="#87ceeb"/>
<path d="M244.5 1282.5v4.3M368.5 1282.5v4.3M492.5 1282.5v4.3M616.5 1282.5v4.3M740.5 1282.5v4.3" stroke="#1c1c1c" stroke-width="1" fill="none"/>
<path d="M120.5 1282.5v2.7M151.5 1282.5v2.7M182.5 1282.5v2.7M213.5 1282.5v2.7M275.5 1282.5v2.7M306.5 1282.5v2.7M337.5 1282.5v2.7M399.5 1282.5v2.7M430.5 1282.5v2.7M461.5 1282.5v2.7M523.5 1282.5v2.7M554.5 1282.5v2.7M585.5 1282.5v2.7M647.5 1282.5v2.7M678.5 1282.5v2.7M709.5 1282.5v2.7M771.5 1282.5v2.7M802.5 1282.5v2.7M833.5 1282.5v2.7M864.5 1282.5v2.7" stroke="#1c1c1c" stroke-width="1" fill="none"/>
<text x="244.7" y="1296.8" font-size="10.9" text-anchor="middle">04:00</text>
<text x="368.7" y="1296.8" font-size="10.9" text-anchor="middle">08:00</text>
<text x="492.7" y="1296.8" font-size="10.9" text-anchor="middle">12:00</text>
<text x="616.7" y="1296.8" font-size="10.9" text-anchor="middle">16:00</text>
<text x="740.7" y="1296.8" font-size="10.9" text-anchor="middle">20:00</text>
<path d="M120.5 1122.5h-4.3M120.5 1186.5h-4.3M120.5 1250.5h-4.3" stroke="#1c1c1c" stroke-width="1" fill="none"/>
<text x="111.5" y="1119.9" font-size="10.7" text-anchor="end">shutter</text>
<text x="111.5" y="1183.9" font-size="10.7" text-anchor="end">roof</text>
<text x="111.5" y="1247.9" font-size="10.7" text-anchor="end">rain</text>
<text x="491.5" y="1318" font-size="16.6" text-anchor="middle">Time [UTC]</text>
<rect x="120.5" y="1090.5" width="744.0" height="192.0" stroke="#1c1c1c" stroke-width="1" fill="none"/>
<rect x="806.5" y="1302.5" width="22.5" height="23" fill="#ffdead"/>
<rect x="829" y="1302.5" width="23" height="23" fill="#ff7f50"/>
<rect x="852" y="1302.5" width="23" height="23" fill="#87ceeb"/>
<rect x="875" y="1302.5" width="23" height="23" fill="#bf00bf"/>
<rect x="898" y="1302.5" width="24.5" height="23" fill="#66cdaa"/>
<path d="M818.7 1302.5v3.7M841.6 1302.5v3.7M864.5 1302.5v3.7M887.5 1302.5v3.7M910.5 1302.5v3.7" stroke="#1c1c1c" stroke-width="1" fill="none"/>
<rect x="806.5" y="1302.5" width="116" height="23" fill="none" stroke="#1c1c1c" stroke-width="1"/>
<text x="819.0" y="1298.6" font-size="12.4" text-anchor="middle">0</text>
<text x="841.9" y="1298.6" font-size="12.4" text-anchor="middle">1</text>
<text x="864.8" y="1298.6" font-size="12.4" text-anchor="middle">2</text>
<text x="887.8" y="1298.6" font-size="12.4" text-anchor="middle">3</text>
<text x="910.8" y="1298.6" font-size="12.4" text-anchor="middle">4</text>
<g font-family="'Liberation Sans','DejaVu Sans',sans-serif" font-weight="bold">
<rect x="557.2" y="1357.2" width="134.5999999999999" height="46.399999999999864" fill="#b6bcb5"/>
<rect x="557.2" y="1390.1" width="134.5999999999999" height="13.5" fill="#333"/>
<rect x="557.7" y="1357.7" width="133.5999999999999" height="45.399999999999864" fill="none" stroke="#333" stroke-width="1.1"/>
<clipPath id="bclip"><rect x="558.2" y="1389.8" width="132.5999999999999" height="12.7"/></clipPath>
<circle cx="580.6" cy="1378.2" r="21.6" fill="#b6bcb5" clip-path="url(#bclip)"/>
<circle cx="580.6" cy="1378.2" r="16.0" fill="#fff" stroke="#333" stroke-width="3.3"/>
<text x="580.0500000000001" y="1384.0" font-size="20.2" text-anchor="middle" fill="#333" stroke="#333" stroke-width="0.45" letter-spacing="-1.1">cc</text>
<circle cx="628.05" cy="1373.1" r="11.65" fill="#fff" stroke="#333" stroke-width="2.5"/>
<circle cx="660.0" cy="1373.1" r="11.65" fill="#fff" stroke="#333" stroke-width="2.5"/>
<circle cx="628.2" cy="1366.0" r="1.8" fill="#333"/>
<path d="M625 1369.8q0-0.8 0.8-0.8h4.8q0.8 0 0.8 0.8v5.1h-1.2v6.4h-4v-6.4h-1.2z" fill="#333"/>
<path d="M654.41 1372.60A5.75 5.75 0 1 1 655.12 1376.28" fill="none" stroke="#333" stroke-width="2.9"/>
<path d="M652.9 1370.6h5.4l-2.9 4.3z" fill="#333"/>
<text x="627.0" y="1400.6" font-size="10.1" text-anchor="middle" fill="#fff" stroke="#fff" stroke-width="0.25" textLength="12.9" lengthAdjust="spacingAndGlyphs">BY</text>
<text x="658.8" y="1400.6" font-size="10.1" text-anchor="middle" fill="#fff" stroke="#fff" stroke-width="0.25" textLength="13.6" lengthAdjust="spacingAndGlyphs">SA</text>
</g>
<text x="193.1" y="1395.6" font-size="13.3">2021-01-31</text>
<text x="193.1" y="1410.6" font-size="13.3">Version: 4.0</text>
<text x="692.2" y="1417.8" font-size="13.3" font-weight="bold" fill="#ff3333">Preliminary</text>
<text x="692.2" y="1432.8" font-size="13.3" font-weight="bold" fill="#ff3333">Results.</text>
<text x="806.3" y="1423.6" font-size="7.85" font-weight="bold">© TROPOS &amp; FMI 2025.</text>
<text x="806.0" y="1433.7" font-size="7.85" font-weight="bold">CC BY SA 4.0 License.</text>
</svg>
</body></html>
